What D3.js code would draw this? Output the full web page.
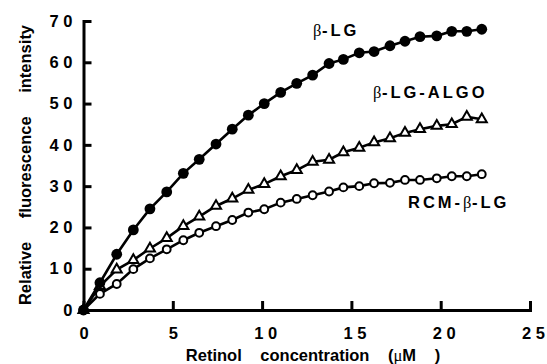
<!DOCTYPE html>
<html>
<head>
<meta charset="utf-8">
<script src="https://cdn.jsdelivr.net/npm/d3@7"></script>
<style>
  html, body { margin: 0; padding: 0; background: #fff; }
  svg { display: block; }
  text { font-family: "Liberation Sans", Arial, Helvetica, sans-serif; font-weight: bold; fill: #000; }
</style>
</head>
<body>
<div id="chart"></div>
<script>
// retinol concentration (uM), shared by the three titrations
const concentration = [0, 0.92, 1.86, 2.79, 3.72, 4.66, 5.59, 6.48, 7.42, 8.33, 9.23, 10.12, 11.04,
    11.94, 12.83, 13.75, 14.55, 15.44, 16.27, 17.16, 18.00, 18.84, 19.78, 20.62, 21.46, 22.30];

// relative fluorescence intensity
const betaLG = [0, 6.6, 13.5, 19.4, 24.5, 28.6, 33.1, 36.5, 40.2, 43.8, 47.2, 50.0, 52.7,
    54.9, 56.9, 59.7, 60.7, 62.3, 62.6, 64.0, 65.1, 66.2, 66.4, 67.5, 67.5, 68.0];
const betaLGAlgo = [0, 5.8, 9.8, 12.1, 14.9, 17.4, 20.3, 22.6, 25.2, 27.0, 29.1, 30.5, 32.4,
    33.9, 35.9, 36.4, 38.2, 39.3, 40.6, 41.6, 42.9, 43.8, 44.6, 45.0, 46.8, 46.2];
const rcmBetaLG = [0, 3.9, 6.3, 9.9, 12.5, 14.7, 16.9, 18.7, 20.3, 21.8, 23.6, 24.4, 26.0,
    26.9, 27.8, 28.7, 29.7, 30.0, 30.7, 30.8, 31.5, 31.5, 31.9, 32.4, 32.4, 32.9];

const xTicks = [0, 5, 10, 15, 20, 25];
const yTicks = [0, 10, 20, 30, 40, 50, 60, 70];

const width = 547;
const height = 364;

const svg = d3.select('#chart')
    .append('svg')
    .attr('width', width)
    .attr('height', height);

const x = d3.scaleLinear().domain([0, 25]).range([83.5, 530]);
const y = d3.scaleLinear().domain([0, 70]).range([310, 21]);

// digits are printed spaced out, "7 0"
const spaced = d => String(d).split('').join(' ');

// axes, ticks point inward
const xAxis = svg.append('g')
    .attr('transform', `translate(0,${y(0)})`)
    .call(d3.axisBottom(x).tickValues(xTicks).tickFormat(spaced)
        .tickSizeInner(-9).tickSizeOuter(0).tickPadding(17));
const yAxis = svg.append('g')
    .attr('transform', `translate(${x(0)},0)`)
    .call(d3.axisLeft(y).tickValues(yTicks).tickFormat(spaced)
        .tickSizeInner(-8).tickSizeOuter(0).tickPadding(11));

[xAxis, yAxis].forEach(ax => {
    ax.select('.domain').attr('stroke', '#000').attr('stroke-width', 3).attr('stroke-linecap', 'square');
    ax.selectAll('.tick line').attr('stroke', '#000').attr('stroke-width', 3);
    ax.selectAll('.tick text')
        .attr('font-family', null)
        .attr('font-size', null)
        .style('font-size', '16.5px')
        .style('white-space', 'pre');
});
xAxis.selectAll('.tick text').attr('dx', d => d >= 10 ? 3 : 0);

const line = d3.line()
    .x((d, i) => x(concentration[i]))
    .y(d => y(d));

const series = [
    {values: rcmBetaLG, marker: 'open'},
    {values: betaLGAlgo, marker: 'triangle'},
    {values: betaLG, marker: 'filled'}
];

series.forEach(s => {
    svg.append('path')
        .datum(s.values)
        .attr('d', line)
        .attr('fill', 'none')
        .attr('stroke', '#000')
        .attr('stroke-width', 2.6);

    const pts = svg.append('g')
        .selectAll('g')
        .data(s.values)
        .enter()
        .append('g')
        .attr('transform', (d, i) => `translate(${x(concentration[i])},${y(d)})`);

    if (s.marker === 'filled') {
        pts.append('circle').attr('r', 5.4).attr('fill', '#000');
    } else if (s.marker === 'open') {
        pts.append('circle').attr('r', 3.9).attr('fill', '#fff').attr('stroke', '#000').attr('stroke-width', 2);
    } else {
        pts.append('path')
            .attr('d', d3.symbol().type(d3.symbolTriangle).size(44))
            .attr('fill', '#fff')
            .attr('stroke', '#000')
            .attr('stroke-width', 2);
    }
});

// curve labels
const addLabel = (parts, px, py) => {
    const t = svg.append('text')
        .attr('x', px)
        .attr('y', py)
        .style('font-size', '16.5px')
        .style('letter-spacing', '3px');
    parts.forEach(p => {
        const ts = t.append('tspan').text(p);
        if (p === 'β') {
            ts.style('font-family', '"Liberation Serif", "Times New Roman", serif')
                .style('font-weight', 'normal')
                .style('letter-spacing', '0.5px');
        }
    });
};
addLabel(['β', '-LG'], 313, 36);
addLabel(['β', '-LG-ALGO'], 373, 98);
addLabel(['RCM-', 'β', '-LG'], 408, 208);

// axis titles
svg.append('text')
    .attr('transform', `translate(31,${(18 + 312) / 2}) rotate(-90)`)
    .attr('text-anchor', 'middle')
    .style('font-size', '16.5px')
    .style('word-spacing', '19px')
    .text('Relative fluorescence intensity');

const xTitle = svg.append('text')
    .attr('x', 313)
    .attr('y', 360.5)
    .attr('text-anchor', 'middle')
    .style('font-size', '16.5px')
    .style('word-spacing', '14px');
xTitle.append('tspan').text('Retinol concentration (');
xTitle.append('tspan')
    .style('font-family', '"Liberation Serif", "Times New Roman", serif')
    .style('font-weight', 'normal')
    .text('μ');
xTitle.append('tspan').text('M )');
</script>
</body>
</html>
